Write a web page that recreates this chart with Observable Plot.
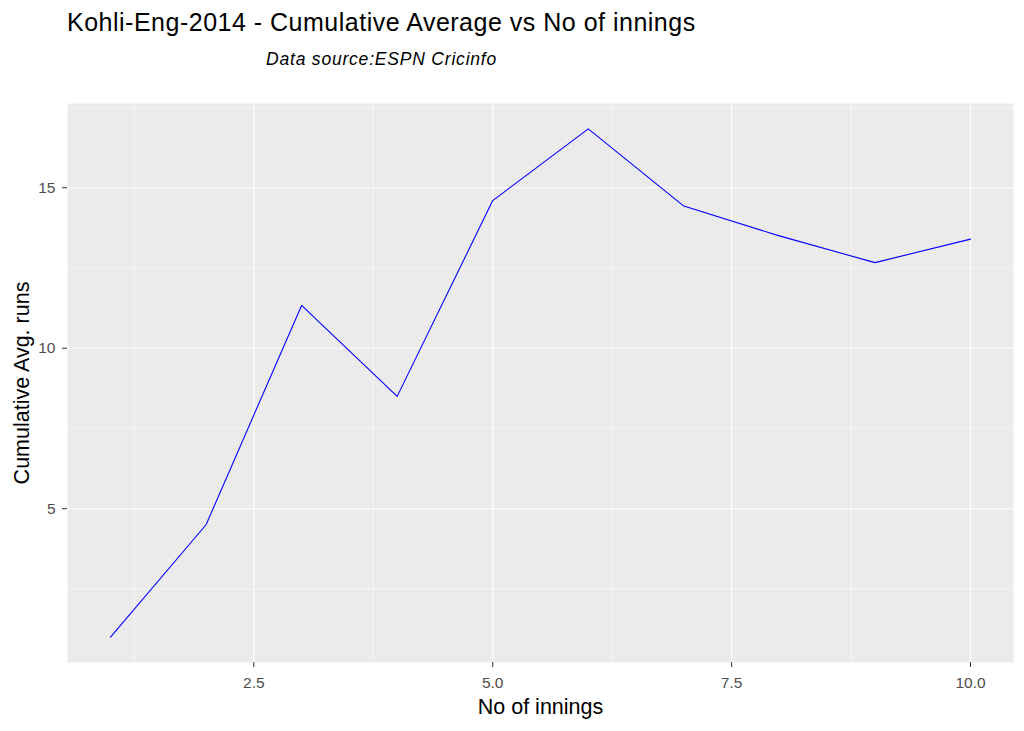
<!DOCTYPE html>
<html>
<head>
<meta charset="utf-8">
<script src="https://cdn.jsdelivr.net/npm/d3@7"></script>
<script src="https://cdn.jsdelivr.net/npm/@observablehq/plot@0.6"></script>
<style>
  body { margin: 0; background: #fff; font-family: "Liberation Sans", Arial, sans-serif; }
  #wrap { position: relative; width: 1024px; height: 731px; }
  #title { position: absolute; left: 67px; top: 10px; font-size: 25px; line-height: 1; letter-spacing: 0.5px; color: #000; white-space: nowrap; }
  #subtitle { position: absolute; left: 266px; top: 51px; font-size: 17.5px; line-height: 1; letter-spacing: 0.8px; font-style: italic; color: #000; white-space: nowrap; }
  #chart { position: absolute; left: 0; top: 90px; }
</style>
</head>
<body>
<div id="wrap">
  <div id="title">Kohli-Eng-2014 - Cumulative Average vs No of innings</div>
  <div id="subtitle">Data source:ESPN Cricinfo</div>
  <div id="chart"></div>
</div>
<script>
const innings = [1, 2, 3, 4, 5, 6, 7, 8, 9, 10];
const cumAvg = [1, 4.5, 11.333, 8.5, 14.6, 16.833, 14.429, 13.5, 12.667, 13.4];
const xMajor = [2.5, 5, 7.5, 10];
const xMinor = [1.25, 3.75, 6.25, 8.75];
const yMajor = [5, 10, 15];
const yMinor = [2.5, 7.5, 12.5, 17.5];

const data = innings.map((x, i) => ({x, y: cumAvg[i]}));
const xr = [d3.min(innings), d3.max(innings)];
const yr = [d3.min(cumAvg), d3.max(cumAvg)];
const xpad = (xr[1] - xr[0]) * 0.05, ypad = (yr[1] - yr[0]) * 0.05;

const plot = Plot.plot({
  width: 1024,
  height: 641,
  marginTop: 13,
  marginBottom: 69,
  marginLeft: 67,
  marginRight: 11,
  style: {fontFamily: "'Liberation Sans', Arial, sans-serif", background: "transparent"},
  x: {domain: [xr[0] - xpad, xr[1] + xpad]},
  y: {domain: [yr[0] - ypad, yr[1] + ypad]},
  marks: [
    Plot.frame({fill: "#EBEBEB", stroke: null}),
    Plot.ruleX(xMinor, {stroke: "white", strokeWidth: 0.55}),
    Plot.ruleY(yMinor, {stroke: "white", strokeWidth: 0.55}),
    Plot.ruleX(xMajor, {stroke: "white", strokeWidth: 1.1}),
    Plot.ruleY(yMajor, {stroke: "white", strokeWidth: 1.1}),
    Plot.line(data, {x: "x", y: "y", stroke: "blue", strokeWidth: 1.1}),
    Plot.axisX({ticks: xMajor, tickFormat: d3.format(".1f"), tickSize: 5, tickPadding: 9, stroke: "#333333", color: "#4D4D4D", fontSize: 15.5, label: null}),
    Plot.axisY({ticks: yMajor, tickSize: 5, tickPadding: 7, stroke: "#333333", color: "#4D4D4D", fontSize: 15.5, label: null}),
    Plot.text(["No of innings"], {frameAnchor: "bottom", dy: 51, fontSize: 21.5, fill: "black"}),
    Plot.text(["Cumulative Avg. runs"], {frameAnchor: "left", textAnchor: "middle", dx: -45, rotate: -90, fontSize: 21.5, fill: "black"})
  ]
});
document.getElementById("chart").appendChild(plot);
</script>
</body>
</html>
